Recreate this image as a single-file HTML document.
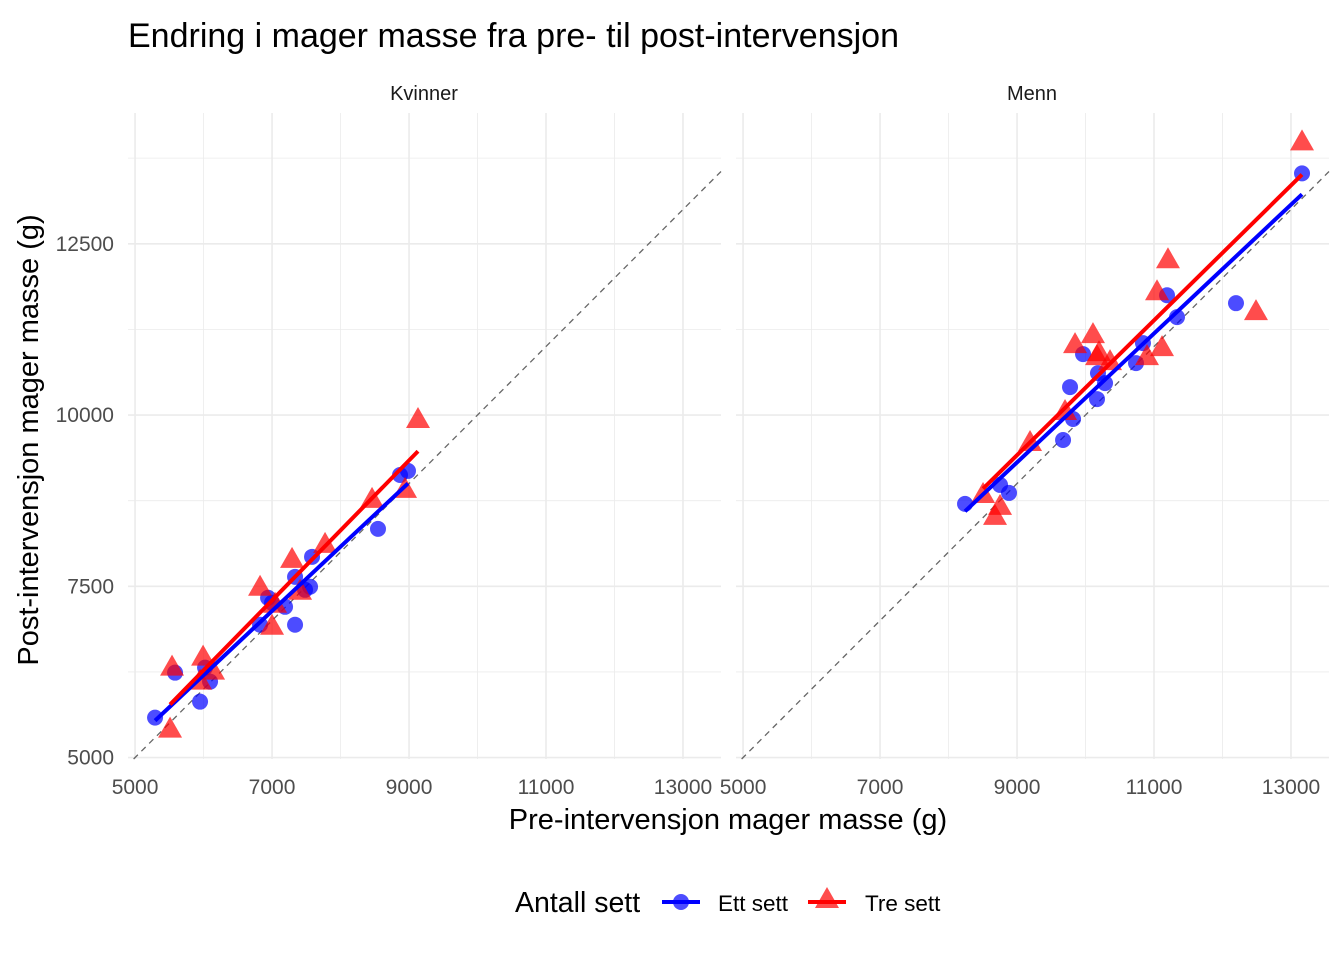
<!DOCTYPE html>
<html><head><meta charset="utf-8"><style>
body{margin:0;background:#fff;font-family:"Liberation Sans",Arial,sans-serif}
svg text{font-family:"Liberation Sans",Arial,sans-serif}
</style></head><body>
<svg id="chart" width="1344" height="960" xmlns="http://www.w3.org/2000/svg">
<rect width="1344" height="960" fill="#fff"/>
<text x="128" y="47" font-size="34" fill="#000">Endring i mager masse fra pre- til post-intervensjon</text>
<text x="424" y="100" font-size="20" text-anchor="middle" fill="#1a1a1a">Kvinner</text>
<text x="1032" y="100" font-size="20" text-anchor="middle" fill="#1a1a1a">Menn</text>
<text transform="translate(38,440) rotate(-90)" font-size="29" text-anchor="middle" fill="#000">Post-intervensjon mager masse (g)</text>
<text x="728" y="829" font-size="29" text-anchor="middle" fill="#000">Pre-intervensjon mager masse (g)</text>
<g id="panels"></g>
<g>
<text x="515" y="912" font-size="28.5" fill="#000">Antall sett</text>
<g>
<line x1="662" y1="902" x2="700" y2="902" stroke="#0000ff" stroke-width="4"/>
<circle cx="681" cy="902" r="8" fill="#0000ff" fill-opacity="0.7"/>
<text x="718" y="911" font-size="22.5" fill="#000">Ett sett</text></g>
<g>
<line x1="808" y1="902" x2="846" y2="902" stroke="#ff0000" stroke-width="4"/>
<polygon points="827,887 839,908 815,908" fill="#ff0000" fill-opacity="0.7"/>
<text x="865" y="911" font-size="22.5" fill="#000">Tre sett</text></g>
</g>
</svg>
<script>
const xTicks=[5000,7000,9000,11000,13000];
const yTicks=[5000,7500,10000,12500];
const kvEttX=[5292,5584,5949,6022,6095,6825,6942,7000,7190,7336,7336,7482,7555,7584,8547,8869,8985];
const kvEttY=[5583,6239,5816,6312,6108,6939,7332,7259,7201,6939,7638,7449,7493,7930,8338,9125,9184];
const kvTreX=[5540,5511,5949,5993,6139,6825,7000,7044,7292,7409,7774,8460,8942,9131];
const kvTreY=[6312,5408,6108,6458,6254,7478,6910,7230,7886,7420,8105,8761,8907,9927];
const meEttX=[8241,8752,8883,9672,9818,9774,10168,10285,10182,9964,10737,10839,11190,11336,12197,13161];
const meEttY=[8703,8980,8863,9636,9942,10408,10233,10466,10612,10889,10758,11050,11749,11429,11633,13528];
const meTreX=[8504,8752,8679,9190,9701,9847,10109,10168,10197,10358,10898,11117,11044,11204,12489,13161];
const meTreY=[8833,8659,8513,9592,10044,11020,11166,10845,10904,10773,10845,10976,11793,12259,11502,13980];
const NS="http://www.w3.org/2000/svg";
const gPanels=document.getElementById('panels');
const xMin=4897,xMax=13555,yMin=4979,yMax=14409,pTop=113,pBot=759;
function mk(tag,at,parent){const e=document.createElementNS(NS,tag);for(const k in at)e.setAttribute(k,at[k]);(parent||gPanels).appendChild(e);return e;}
function yS(v){return pBot-(v-yMin)/(yMax-yMin)*(pBot-pTop);}
function fit(xs,ys){const n=xs.length;let mx=0,my=0;for(let i=0;i<n;i++){mx+=xs[i];my+=ys[i];}mx/=n;my/=n;let sxy=0,sxx=0;for(let i=0;i<n;i++){sxy+=(xs[i]-mx)*(ys[i]-my);sxx+=(xs[i]-mx)**2;}const b=sxy/sxx;return [b,my-b*mx];}
function panel(name,left,right,ex,ey,tx,ty,showY){
  const xS=v=>left+(v-xMin)/(xMax-xMin)*(right-left);
  const pg=mk('g',{});
  
  
  for(let v=5000;v<=13000;v+=1000){const major=xTicks.includes(v);
    const l=mk('line',{x1:xS(v),x2:xS(v),y1:pTop,y2:pBot,stroke:'#ebebeb','stroke-width':major?1.6:0.8},pg);
    
    }
  for(let v=5000;v<=13750;v+=1250){const major=yTicks.includes(v);
    const l=mk('line',{x1:left,x2:right,y1:yS(v),y2:yS(v),stroke:'#ebebeb','stroke-width':major?1.6:0.8},pg);
    
    }
  const lo=Math.max(xMin,yMin),hi=Math.min(xMax,yMax);
  const d=mk('line',{x1:xS(lo),y1:yS(lo),x2:xS(hi),y2:yS(hi),stroke:'#666','stroke-width':1.3,'stroke-dasharray':'6,5'},pg);
  
  
  xTicks.forEach(v=>{const t=mk('text',{x:xS(v),y:794,'font-size':21,'text-anchor':'middle',fill:'#4d4d4d'},pg);t.textContent=v;
    
    });
  if(showY)yTicks.forEach(v=>{const t=mk('text',{x:114,y:yS(v)+7,'font-size':21,'text-anchor':'end',fill:'#4d4d4d'},pg);t.textContent=v;
    
    });
  ex.forEach((x,i)=>{const c=mk('circle',{cx:xS(x),cy:yS(ey[i]),r:8,fill:'#0000ff','fill-opacity':0.7},pg);
    
    });
  tx.forEach((x,i)=>{const cx=xS(x),cy=yS(ty[i]);
    const p=mk('polygon',{points:`${cx},${cy-13} ${cx+12},${cy+8} ${cx-12},${cy+8}`,fill:'#ff0000','fill-opacity':0.7},pg);
    
    });
  [[ex,ey,'#0000ff','ett-sett'],[tx,ty,'#ff0000','tre-sett']].forEach(([xs,ys,col,nm])=>{
    const [b,a]=fit(xs,ys);const x0=Math.min(...xs),x1=Math.max(...xs);
    const l=mk('line',{x1:xS(x0),y1:yS(a+b*x0),x2:xS(x1),y2:yS(a+b*x1),stroke:col,'stroke-width':4},pg);
    
    });
}
panel('kvinner',128,721,kvEttX,kvEttY,kvTreX,kvTreY,true);
panel('menn',736,1329,meEttX,meEttY,meTreX,meTreY,false);
</script>
</body></html>
